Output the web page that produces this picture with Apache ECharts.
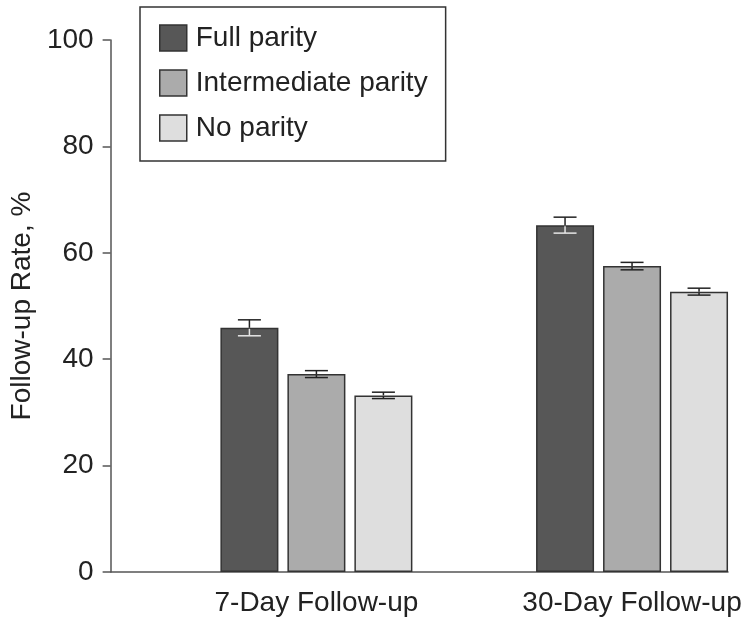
<!DOCTYPE html>
<html>
<head>
<meta charset="utf-8">
<script src="https://cdn.jsdelivr.net/npm/echarts@6/dist/echarts.min.js"></script>
<style>
html,body{margin:0;padding:0;background:#fff;}
#chart{width:750px;height:625px;}
</style>
</head>
<body>
<div id="chart"></div>
<script>
// ---- data ----
const categories = ['7-Day Follow-up', '30-Day Follow-up'];
const seriesNames = ['Full parity', 'Intermediate parity', 'No parity'];
const fullParity = [45.9, 65.2];
const intermediateParity = [37.2, 57.5];
const noParity = [33.2, 52.7];
const fullParityErr = [1.5, 1.5];
const intermediateParityErr = [0.65, 0.7];
const noParityErr = [0.6, 0.65];
const yTicks = [0, 20, 40, 60, 80, 100];

// ---- style ----
const FONT = 'Liberation Sans, Arial, sans-serif';
const TEXT = '#222';
const AXIS = '#555';
const fills = ['#575757', '#ababab', '#dedede'];
const lowerErrColor = ['#e6e6e6', '#222', '#222'];
const BAR_W = 58, BAR_GAP = 9, CAP_W = 23;
// x-axis extent (in category-index units) so the groups sit right of the y-axis
const X_MIN = -0.652, X_MAX = 1.304;

const values = [fullParity, intermediateParity, noParity];
const errs = [fullParityErr, intermediateParityErr, noParityErr];
const catIdx = categories.map((c, i) => i);

const chart = echarts.init(document.getElementById('chart'), null, {renderer: 'canvas'});

const barSeries = seriesNames.map((name, s) => ({
  name: name,
  type: 'bar',
  data: catIdx.map(i => [i, values[s][i]]),
  barWidth: BAR_W,
  barGap: (BAR_GAP / BAR_W * 100).toFixed(1) + '%',
  itemStyle: {color: fills[s], borderColor: '#333', borderWidth: 1.5},
  emphasis: {disabled: true},
  z: 2
}));

const errSeries = seriesNames.map((name, s) => ({
  type: 'custom',
  z: 5,
  silent: true,
  data: catIdx.map(i => [i, values[s][i], errs[s][i]]),
  renderItem: function (params, api) {
    const i = api.value(0), m = api.value(1), e = api.value(2);
    const off = (s - 1) * (BAR_W + BAR_GAP);
    const pm = api.coord([i, m]);
    const ph = api.coord([i, m + e]);
    const pl = api.coord([i, m - e]);
    const x = pm[0] + off;
    const upStyle = {stroke: '#222', lineWidth: 1.5};
    const loStyle = {stroke: lowerErrColor[s], lineWidth: 1.5};
    return {
      type: 'group',
      children: [
        {type: 'line', shape: {x1: x, y1: ph[1], x2: x, y2: pm[1]}, style: upStyle},
        {type: 'line', shape: {x1: x - CAP_W / 2, y1: ph[1], x2: x + CAP_W / 2, y2: ph[1]}, style: upStyle},
        {type: 'line', shape: {x1: x, y1: pm[1] + 1, x2: x, y2: pl[1]}, style: loStyle},
        {type: 'line', shape: {x1: x - CAP_W / 2, y1: pl[1], x2: x + CAP_W / 2, y2: pl[1]}, style: loStyle}
      ]
    };
  }
}));

const option = {
  backgroundColor: '#fff',
  animation: false,
  textStyle: {fontFamily: FONT},
  grid: {left: 110, top: 40, right: 22, bottom: 53},
  legend: {
    data: seriesNames,
    orient: 'vertical',
    left: 140, top: 7,
    padding: [17, 18, 19, 19],
    itemWidth: 27, itemHeight: 26, itemGap: 17,
    icon: 'rect',
    borderColor: '#333', borderWidth: 1.5,
    backgroundColor: '#fff',
    selectedMode: false,
    itemStyle: {borderColor: '#333', borderWidth: 1.5},
    textStyle: {fontSize: 28, color: TEXT, fontFamily: FONT, padding: [0, 0, 0, 4]}
  },
  xAxis: {
    type: 'value', min: X_MIN, max: X_MAX,
    axisLine: {show: true, onZero: false, lineStyle: {color: AXIS, width: 1.5}},
    axisTick: {show: false},
    splitLine: {show: false},
    axisLabel: {
      fontSize: 28, color: TEXT, margin: 17, fontFamily: FONT,
      customValues: catIdx,
      formatter: v => categories[Math.round(v)] || ''
    }
  },
  yAxis: {
    type: 'value', min: yTicks[0], max: yTicks[yTicks.length - 1], interval: 20,
    axisLine: {show: true, onZero: false, lineStyle: {color: AXIS, width: 1.5}},
    axisTick: {show: true, length: 8, lineStyle: {color: AXIS, width: 1.5}},
    axisLabel: {fontSize: 28, color: TEXT, margin: 17, fontFamily: FONT},
    splitLine: {show: false},
    name: 'Follow-up Rate, %',
    nameLocation: 'middle', nameRotate: 90, nameGap: 74,
    nameTextStyle: {fontSize: 28, color: TEXT, fontFamily: FONT}
  },
  series: barSeries.concat(errSeries)
};
chart.setOption(option);
</script>
</body>
</html>
